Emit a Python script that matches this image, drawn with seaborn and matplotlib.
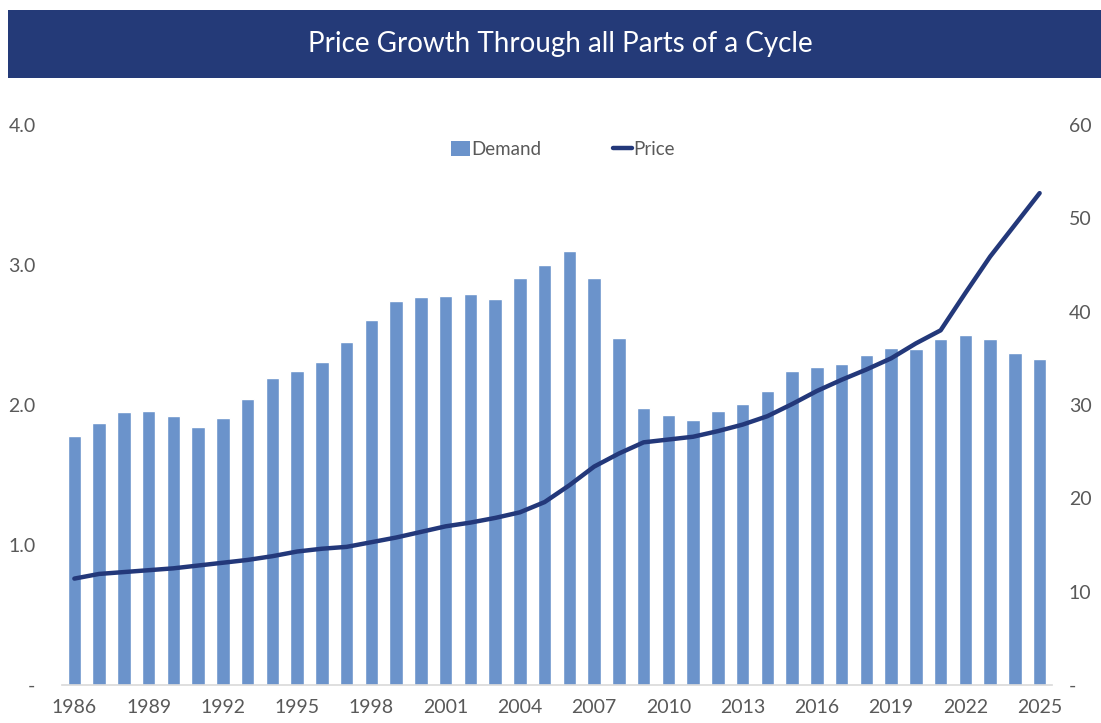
import seaborn as sns
import matplotlib.pyplot as plt
import matplotlib.ticker as mticker
from matplotlib.patches import Rectangle, Patch
from matplotlib.lines import Line2D
import pandas as pd
import numpy as np

# data
years = list(range(1986, 2026))
demand = [1.78, 1.87, 1.95, 1.96, 1.92, 1.84, 1.91, 2.04, 2.19, 2.24,
          2.31, 2.45, 2.61, 2.74, 2.77, 2.78, 2.79, 2.76, 2.91, 3.00,
          3.10, 2.91, 2.48, 1.98, 1.93, 1.89, 1.96, 2.01, 2.10, 2.24,
          2.27, 2.29, 2.36, 2.41, 2.40, 2.47, 2.50, 2.47, 2.37, 2.33]
price = [11.4, 11.9, 12.1, 12.3, 12.5, 12.8, 13.1, 13.4, 13.8, 14.3,
         14.6, 14.8, 15.3, 15.8, 16.4, 17.0, 17.4, 17.9, 18.5, 19.6,
         21.4, 23.4, 24.8, 26.0, 26.3, 26.6, 27.2, 27.9, 28.8, 30.1,
         31.5, 32.7, 33.8, 35.0, 36.6, 38.0, 42.0, 45.9, 49.3, 52.7]
tick_years = [str(y) for y in range(1986, 2026, 3)]

df = pd.DataFrame({"Year": [str(y) for y in years], "Demand": demand,
                   "Price": price, "pos": np.arange(len(years))})

bar_color = "#6b93cb"
line_color = "#23387a"
text_gray = "#595959"

sns.set_style("white")
plt.rcParams["font.family"] = ["Lato", "DejaVu Sans"]

fig = plt.figure(figsize=(11.01, 7.23), dpi=100)
ax = fig.add_axes([62 / 1101, 38 / 723, 990 / 1101, 560 / 723])

sns.barplot(data=df, x="Year", y="Demand", color=bar_color, width=0.55,
            saturation=1, ax=ax)
ax.set_xlim(-0.5, len(years) - 0.5)
ax.set_ylim(0, 4)
ax.set_yticks([0, 1, 2, 3, 4])
ax.yaxis.set_major_formatter(mticker.FuncFormatter(lambda v, p: "-" if v == 0 else f"{v:.1f}"))
ax.set_xticks([years.index(int(t)) for t in tick_years])
ax.set_xticklabels(tick_years)
ax.set_xlabel("")
ax.set_ylabel("")
ax.tick_params(axis="x", length=0, pad=10, labelsize=14, labelcolor=text_gray)
ax.tick_params(axis="y", length=0, pad=19, labelsize=14, labelcolor=text_gray)
for s in ["top", "right", "left"]:
    ax.spines[s].set_visible(False)
ax.spines["bottom"].set_color("#d9d9d9")
ax.spines["bottom"].set_linewidth(1.2)

ax2 = ax.twinx()
sns.lineplot(data=df, x="pos", y="Price", color=line_color, linewidth=3.2, ax=ax2)
ax2.set_ylim(0, 60)
ax2.set_yticks([0, 10, 20, 30, 40, 50, 60])
ax2.yaxis.set_major_formatter(mticker.FuncFormatter(lambda v, p: "-" if v == 0 else f"{v:.0f}"))
ax2.set_ylabel("")
ax2.tick_params(axis="y", length=0, pad=12, labelsize=14, labelcolor=text_gray)
for s in ["top", "right", "left", "bottom"]:
    ax2.spines[s].set_visible(False)

handles = [Patch(facecolor=bar_color, edgecolor="none"),
           Line2D([0], [0], color=line_color, linewidth=3.2)]
ax.legend(handles, ["Demand", "Price"], loc="upper center", bbox_to_anchor=(0.506, 1.002),
          ncol=2, frameon=False, fontsize=13.5, labelcolor=text_gray,
          handlelength=1.0, handletextpad=0.1, columnspacing=3.8, handleheight=0.9)

# title banner
fig.patches.append(Rectangle((8 / 1101, (723 - 78) / 723), 1 - 8 / 1101, 68 / 723,
                             transform=fig.transFigure, facecolor="#243a78",
                             edgecolor="none", zorder=0))
fig.text(0.509, (723 - 44) / 723, "Price Growth Through all Parts of a Cycle",
         color="white", fontsize=20, ha="center", va="center")

plt.savefig("out.png", dpi=100)
plt.close()
